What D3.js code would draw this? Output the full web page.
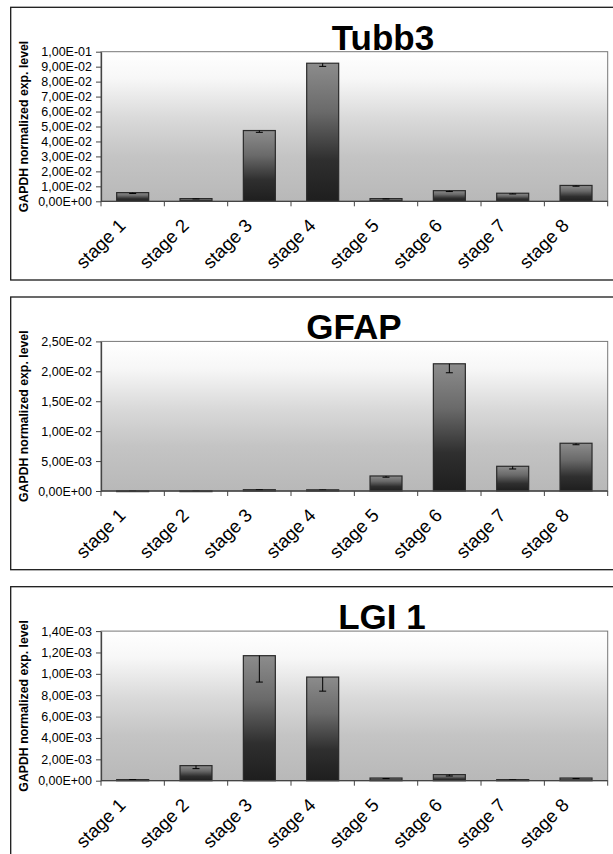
<!DOCTYPE html>
<html>
<head>
<meta charset="utf-8">
<script src="https://cdn.jsdelivr.net/npm/d3@7"></script>
<style>
  html, body { margin: 0; padding: 0; background: #fff; }
  svg { display: block; font-family: "Liberation Sans", Arial, sans-serif; }
</style>
</head>
<body>
<svg id="chart" width="613" height="854"></svg>
<script>
// ---------- data ----------
const stages = ["stage 1", "stage 2", "stage 3", "stage 4", "stage 5", "stage 6", "stage 7", "stage 8"];

const titles = ["Tubb3", "GFAP", "LGI 1"];

const tubb3Values = [0.0058, 0.0018, 0.0473, 0.0923, 0.0018, 0.0071, 0.0054, 0.0106];
const tubb3Errors = [0.0006, 0.0002, 0.0012, 0.0021, 0.0002, 0.0006, 0.0005, 0.0005];
const tubb3TickValues = [0, 0.01, 0.02, 0.03, 0.04, 0.05, 0.06, 0.07, 0.08, 0.09, 0.1];
const tubb3TickLabels = ["0,00E+00", "1,00E-02", "2,00E-02", "3,00E-02", "4,00E-02", "5,00E-02",
                         "6,00E-02", "7,00E-02", "8,00E-02", "9,00E-02", "1,00E-01"];

const gfapValues = [0.00003, 0.00003, 0.00022, 0.0002, 0.00251, 0.02126, 0.00413, 0.00798];
const gfapErrors = [0, 0, 0.00003, 0.00003, 0.0002, 0.0015, 0.00045, 0.00025];
const gfapTickValues = [0, 0.005, 0.01, 0.015, 0.02, 0.025];
const gfapTickLabels = ["0,00E+00", "5,00E-03", "1,00E-02", "1,50E-02", "2,00E-02", "2,50E-02"];

const lgi1Values = [0.00001, 0.000141, 0.00117, 0.00097, 0.000025, 0.000057, 0.00001, 0.000025];
const lgi1Errors = [0, 0.000028, 0.000247, 0.000132, 0.000005, 0.000013, 0.000002, 0.000005];
const lgi1TickValues = [0, 0.0002, 0.0004, 0.0006, 0.0008, 0.001, 0.0012, 0.0014];
const lgi1TickLabels = ["0,00E+00", "2,00E-03", "4,00E-03", "6,00E-03", "8,00E-03", "1,00E-03", "1,20E-03", "1,40E-03"];

const yAxisTitle = "GAPDH normalized exp. level";

// ---------- layout ----------
const panels = [
  { title: titles[0], values: tubb3Values, errors: tubb3Errors, tv: tubb3TickValues, tl: tubb3TickLabels, top: 7.3, titleX: 383 },
  { title: titles[1], values: gfapValues, errors: gfapErrors, tv: gfapTickValues, tl: gfapTickLabels, top: 297, titleX: 354 },
  { title: titles[2], values: lgi1Values, errors: lgi1Errors, tv: lgi1TickValues, tl: lgi1TickLabels, top: 586.7, titleX: 382 }
];

const plotLeft = 101, plotRight = 607.7;
const plotTopOff = 44.4, zeroOff = 194;   // relative to panel top
const panelHeight = 272.7;

const svg = d3.select("#chart");
const defs = svg.append("defs");

const bg = defs.append("linearGradient").attr("id", "bgGrad")
  .attr("x1", 0).attr("y1", 0).attr("x2", 0).attr("y2", 1);
[[0, "#ffffff"], [0.18, "#f7f7f7"], [0.45, "#d9d9d9"], [0.7, "#c4c4c4"], [1, "#b8b8b8"]]
  .forEach(([o, c]) => bg.append("stop").attr("offset", o).attr("stop-color", c));

const bar = defs.append("linearGradient").attr("id", "barGrad")
  .attr("x1", 0).attr("y1", 0).attr("x2", 0).attr("y2", 1);
[[0, "#8c8c8c"], [0.35, "#6a6a6a"], [0.7, "#2f2f2f"], [1, "#1e1e1e"]]
  .forEach(([o, c]) => bar.append("stop").attr("offset", o).attr("stop-color", c));

const x = d3.scaleBand().domain(stages).range([plotLeft, plotRight]).padding(0);
const bw = x.bandwidth();
const barW = bw * 0.505;

panels.forEach(p => {
  const g = svg.append("g");
  const top = p.top + plotTopOff, zero = p.top + zeroOff;

  // panel border
  g.append("rect")
    .attr("x", 10.7).attr("y", p.top)
    .attr("width", 640).attr("height", panelHeight)
    .attr("fill", "none").attr("stroke", "#1a1a1a").attr("stroke-width", 1.3);

  const y = d3.scaleLinear().domain([0, d3.max(p.tv)]).range([zero, top]);

  // plot area
  g.append("rect")
    .attr("x", plotLeft).attr("y", top)
    .attr("width", plotRight - plotLeft).attr("height", zero - top)
    .attr("fill", "url(#bgGrad)").attr("stroke", "#777").attr("stroke-width", 1);

  // bars
  g.selectAll("rect.bar").data(stages).join("rect")
    .attr("class", "bar")
    .attr("x", d => x(d) + (bw - barW) / 2)
    .attr("width", barW)
    .attr("y", (d, i) => y(p.values[i]))
    .attr("height", (d, i) => Math.max(0.8, zero - y(p.values[i])))
    .attr("fill", "url(#barGrad)")
    .attr("stroke", "#2a2a2a").attr("stroke-width", 1.2);

  // error bars (minus direction)
  const eb = g.selectAll("g.err").data(stages).join("g").attr("class", "err");
  eb.append("line")
    .attr("x1", d => x(d) + bw / 2).attr("x2", d => x(d) + bw / 2)
    .attr("y1", (d, i) => y(p.values[i]))
    .attr("y2", (d, i) => y(p.values[i] - p.errors[i]))
    .attr("stroke", "#000").attr("stroke-width", 1);
  eb.append("line")
    .attr("x1", d => x(d) + bw / 2 - 3.5).attr("x2", d => x(d) + bw / 2 + 3.5)
    .attr("y1", (d, i) => y(p.values[i] - p.errors[i]))
    .attr("y2", (d, i) => y(p.values[i] - p.errors[i]))
    .attr("stroke", "#000").attr("stroke-width", 1);

  // y axis
  const ya = g.append("g").attr("transform", `translate(${plotLeft},0)`)
    .call(d3.axisLeft(y).tickValues(p.tv).tickFormat((d, i) => p.tl[i]).tickSize(5).tickSizeOuter(0).tickPadding(4));
  ya.select(".domain").attr("stroke", "#444").attr("stroke-width", 1.3);
  ya.selectAll(".tick line").attr("stroke", "#444");
  ya.selectAll(".tick text").attr("font-size", 12.5).attr("fill", "#000")
    .attr("font-family", "'Liberation Sans', Arial, sans-serif");

  // x axis line and ticks at band boundaries
  g.append("line").attr("x1", plotLeft).attr("x2", plotRight)
    .attr("y1", zero).attr("y2", zero).attr("stroke", "#444").attr("stroke-width", 1.3);
  const bounds = stages.map(d => x(d)).concat([plotRight]);
  g.selectAll("line.xt").data(bounds).join("line").attr("class", "xt")
    .attr("x1", d => d).attr("x2", d => d)
    .attr("y1", zero).attr("y2", zero + 5)
    .attr("stroke", "#444").attr("stroke-width", 1);

  // x labels
  g.selectAll("text.xl").data(stages).join("text").attr("class", "xl")
    .attr("transform", d => `translate(${x(d) + bw / 2 - 6},${zero + 25.5}) rotate(-45)`)
    .attr("text-anchor", "end")
    .attr("font-size", 18.5).attr("fill", "#000")
    .text(d => d);

  // title
  g.append("text")
    .attr("x", p.titleX).attr("y", p.top + 42.4)
    .attr("text-anchor", "middle")
    .attr("font-size", 35).attr("font-weight", "bold").attr("fill", "#000")
    .text(p.title);

  // y axis title
  g.append("text")
    .attr("transform", `translate(28,${(top + zero) / 2}) rotate(-90)`)
    .attr("text-anchor", "middle")
    .attr("font-size", 12.3).attr("font-weight", "bold").attr("fill", "#000")
    .text(yAxisTitle);
});
</script>
</body>
</html>
